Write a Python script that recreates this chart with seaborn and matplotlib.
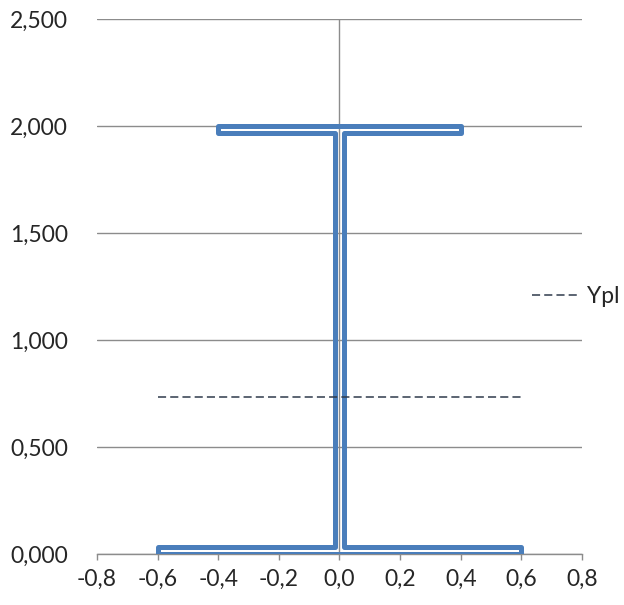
import numpy as np
import pandas as pd
import matplotlib
matplotlib.use("Agg")
import matplotlib.pyplot as plt
import seaborn as sns
from matplotlib.ticker import FuncFormatter
from matplotlib.lines import Line2D

# contorno de la sección en I (recorrido cerrado)
beam_x = [-0.6, 0.6, 0.6, 0.015, 0.015, 0.4, 0.4, -0.4, -0.4, -0.015, -0.015, -0.6, -0.6]
beam_y = [0.0, 0.0, 0.035, 0.035, 1.965, 1.965, 2.0, 2.0, 1.965, 1.965, 0.035, 0.035, 0.0]

# eje neutro plástico
ypl_x = [-0.6, 0.6]
ypl_y = [0.735, 0.735]

x_ticks = [-0.8, -0.6, -0.4, -0.2, 0.0, 0.2, 0.4, 0.6, 0.8]
y_ticks = [0.0, 0.5, 1.0, 1.5, 2.0, 2.5]

sns.set_theme(style="white")
plt.rcParams['font.family'] = ['Lato', 'DejaVu Sans']

fig = plt.figure(figsize=(6.24, 6.05), dpi=100)
ax = fig.add_axes([0.1554, 0.0843, 0.7773, 0.8843])

df_beam = pd.DataFrame({'x': beam_x, 'y': beam_y})
df_ypl = pd.DataFrame({'x': ypl_x, 'y': ypl_y})

dash = (0, (5.3, 2.7))

sns.lineplot(data=df_beam, x='x', y='y', sort=False, estimator=None, ax=ax,
             color='#4A7EBB', linewidth=3.6, solid_joinstyle='round',
             solid_capstyle='round', zorder=3)
sns.lineplot(data=df_ypl, x='x', y='y', sort=False, estimator=None, ax=ax,
             color='#2F3B4C', linewidth=1.1, linestyle=dash, zorder=4)

ax.axvline(0, color='#8C8C8C', linewidth=1.0, zorder=2)

ax.set_xlim(-0.8, 0.8)
ax.set_ylim(0, 2.5)
ax.set_xticks(x_ticks)
ax.set_yticks(y_ticks)
ax.xaxis.set_major_formatter(FuncFormatter(lambda v, p: f"{v:.1f}".replace('.', ',').replace('-0,0', '0,0')))
ax.yaxis.set_major_formatter(FuncFormatter(lambda v, p: f"{v:,.3f}".replace('.', ',')))

ax.grid(axis='y', color='#8C8C8C', linewidth=1.0)
ax.grid(axis='x', visible=False)
ax.set_axisbelow(True)

for s in ['left', 'right', 'top']:
    ax.spines[s].set_visible(False)
ax.spines['bottom'].set_color('#8C8C8C')
ax.spines['bottom'].set_linewidth(1.0)

ax.tick_params(axis='x', direction='out', length=4, width=1.0, color='#8C8C8C',
               pad=7, labelsize=16.5, bottom=True)
ax.tick_params(axis='y', length=0, pad=21, labelsize=16.5)
ax.set_xlabel('')
ax.set_ylabel('')

handle = Line2D([], [], color='#2F3B4C', linewidth=1.1, linestyle=dash)
fig.legend([handle], ['Ypl'], loc='center left', bbox_to_anchor=(0.852, 0.51),
           frameon=False, fontsize=16.5, handlelength=2.05, handletextpad=0.38,
           borderpad=0, borderaxespad=0)

fig.savefig('out.png', dpi=100)
